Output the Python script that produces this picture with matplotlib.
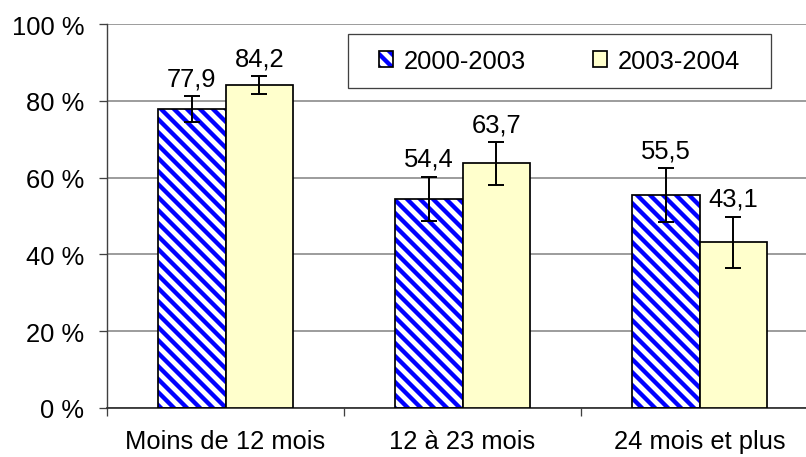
import matplotlib
matplotlib.use("Agg")
import matplotlib.pyplot as plt
from matplotlib.patches import Rectangle
import numpy as np

# ---- data ----
categories = ["Moins de 12 mois", "12 à 23 mois", "24 mois et plus"]
series_names = ["2000-2003", "2003-2004"]
values_2000_2003 = [77.9, 54.4, 55.5]
values_2003_2004 = [84.2, 63.7, 43.1]
err_2000_2003 = [3.3, 5.8, 7.0]
err_2003_2004 = [2.3, 5.5, 6.7]
y_ticks = [0, 20, 40, 60, 80, 100]
y_tick_labels = ["0 %", "20 %", "40 %", "60 %", "80 %", "100 %"]

# ---- style ----
DPI = 78
W, H = 806, 458
FS = 23.5
plt.rcParams["font.family"] = ["Liberation Sans", "DejaVu Sans"]
plt.rcParams["hatch.linewidth"] = 4.0

fig = plt.figure(figsize=(W / DPI, H / DPI), dpi=DPI)
fig.patch.set_facecolor("white")
ax = fig.add_axes([107 / W, 49 / H, 711 / W, 384 / H])

x = np.arange(len(categories)) + 0.5
w = 0.285

hatched = ax.bar(x - w / 2, values_2000_2003, w, color="white",
                 edgecolor="#0000FF", hatch="\\\\", linewidth=0, zorder=2)
outline1 = ax.bar(x - w / 2, values_2000_2003, w, fill=False,
                  edgecolor="black", linewidth=1.6, zorder=3,
                  yerr=err_2000_2003,
                  error_kw=dict(ecolor="black", elinewidth=1.8, capsize=7.5,
                                capthick=1.8, zorder=4))
bars2 = ax.bar(x + w / 2, values_2003_2004, w, color="#FFFFCC",
               edgecolor="black", linewidth=1.6, zorder=3,
               yerr=err_2003_2004,
               error_kw=dict(ecolor="black", elinewidth=1.8, capsize=7.5,
                             capthick=1.8, zorder=4))

# value labels
for xs, vals, errs in ((x - w / 2, values_2000_2003, err_2000_2003),
                       (x + w / 2, values_2003_2004, err_2003_2004)):
    for xi, v, e in zip(xs, vals, errs):
        ax.annotate(f"{v:.1f}".replace(".", ","), xy=(xi, v + e),
                    xytext=(0, 10), textcoords="offset points",
                    ha="center", va="baseline", fontsize=FS, zorder=5)

ax.set_xlim(0, len(categories))
ax.set_ylim(0, 100)
ax.set_yticks(y_ticks)
ax.set_yticklabels(y_tick_labels)
ax.set_xticks(x)
ax.set_xticklabels(categories)
ax.set_xticks(np.arange(len(categories) + 1), minor=True)
ax.tick_params(axis="x", which="major", length=0, pad=19, labelsize=FS)
ax.tick_params(axis="x", which="minor", length=7.4, width=1.2,
               color="#404040", direction="out")
ax.tick_params(axis="y", which="major", length=7.4, width=1.2,
               color="#404040", direction="out", pad=13.5, labelsize=FS)

ax.set_axisbelow(True)
ax.yaxis.grid(True, color="#808080", linewidth=1.4)
for s in ("top", "right"):
    ax.spines[s].set_visible(False)
ax.spines["left"].set_color("#404040")
ax.spines["left"].set_linewidth(1.3)
ax.spines["bottom"].set_color("#303030")
ax.spines["bottom"].set_linewidth(1.6)
ax.set_facecolor("white")

# legend box
lx0, ly0, lx1, ly1 = 348, 35, 771, 89
frame = Rectangle((lx0 / W, 1 - ly1 / H), (lx1 - lx0) / W, (ly1 - ly0) / H,
                  transform=fig.transFigure, facecolor="white",
                  edgecolor="#404040", linewidth=1.2, zorder=5)
fig.add_artist(frame)
leg = fig.legend([(hatched[0], outline1[0]), bars2[0]], series_names,
                 loc="center",
                 bbox_to_anchor=((lx0 + lx1) / 2 / W, 1 - (ly0 + ly1) / 2 / H),
                 bbox_transform=fig.transFigure, ncol=2, frameon=False,
                 fontsize=FS, handlelength=0.55, handleheight=0.55,
                 handletextpad=0.43, columnspacing=2.65, borderpad=0)
leg.set_zorder(6)

fig.savefig("out.png", dpi=DPI)
